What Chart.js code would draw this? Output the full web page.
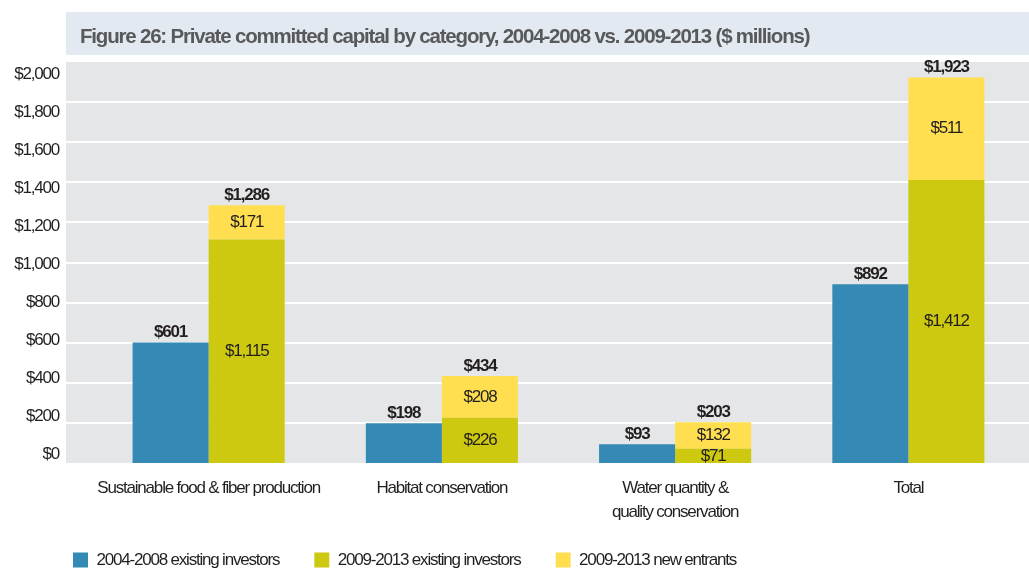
<!DOCTYPE html>
<html lang="en">
<head>
  <meta charset="UTF-8" />
  <title>Private committed capital by category</title>
  <script src="https://cdn.jsdelivr.net/npm/chart.js"></script>
  <style>
    body { margin: 0; background: #fff; }
    #wrap { width: 1029px; height: 571px; position: relative; }
  </style>
</head>
<body>
  <div id="wrap"><canvas id="capitalChart"></canvas></div>

  <script>
    // data ($ millions)
    const categories = [
      'Sustainable food & fiber production',
      'Habitat conservation',
      ['Water quantity &', 'quality conservation'],
      'Total'
    ];
    const existing0408 = [601, 198, 93, 892];
    const existing0913 = [1115, 226, 71, 1412];
    const newEntrants0913 = [171, 208, 132, 511];
    const yTicks = { min: 0, max: 2000, step: 200 };
    // the printed tick labels sit on a slightly tighter ladder than the gridlines
    const labelRange = { min: -45, max: 2067 };

    const FONT = "'Liberation Sans', Arial, sans-serif";
    const money = v => '$' + v.toLocaleString('en-US');

    // the original uses a condensed face; tighten the tracking instead
    const tightText = {
      id: 'tightText',
      beforeUpdate(chart) { chart.ctx.letterSpacing = '-1.2px'; },
      beforeDraw(chart) { chart.ctx.letterSpacing = '-1.2px'; }
    };

    // gray plot panel, title band and white gridlines
    const backdrop = {
      id: 'backdrop',
      beforeDraw(chart) {
        const { ctx, chartArea, scales } = chart;
        const x0 = 66, x1 = chart.width;
        ctx.save();
        ctx.fillStyle = '#e3e9f1';
        ctx.fillRect(x0, 12, x1 - x0, 43);
        ctx.fillStyle = '#e5e6e8';
        ctx.fillRect(x0, chartArea.top, x1 - x0, chartArea.bottom - chartArea.top);
        ctx.strokeStyle = '#ffffff';
        ctx.lineWidth = 2;
        for (let v = yTicks.min + yTicks.step; v < yTicks.max; v += yTicks.step) {
          const y = Math.round(scales.y.getPixelForValue(v));
          ctx.beginPath();
          ctx.moveTo(x0, y);
          ctx.lineTo(x1, y);
          ctx.stroke();
        }
        ctx.restore();
      }
    };

    // nudge title and legend to where the figure has them
    const placeBlocks = {
      id: 'placeBlocks',
      afterLayout(chart) {
        const t = chart.titleBlock;
        if (t) { const dx = 80 - t.left; t.left += dx; t.right += dx; }
        const lg = chart.legend;
        if (lg) {
          const pad = lg.options.labels.padding;
          const dx = 73 - pad - lg.left;
          lg.left += dx; lg.right += dx;
          lg.top = 560 - pad - 8.5;
          lg.bottom = chart.height;
          lg.height = lg.bottom - lg.top;
        }
      }
    };

    const valueLabels = {
      id: 'valueLabels',
      afterDatasetsDraw(chart) {
        const ctx = chart.ctx;
        ctx.save();
        ctx.textAlign = 'center';
        ctx.fillStyle = '#231f20';
        chart.data.datasets.forEach((ds, di) => {
          const meta = chart.getDatasetMeta(di);
          meta.data.forEach((bar, i) => {
            const v = ds.data[i];
            if (di === 0) {
              ctx.font = 'bold 17px ' + FONT;
              ctx.textBaseline = 'alphabetic';
              ctx.fillText(money(v), bar.x, bar.y - 5);
              return;
            }
            ctx.font = '17px ' + FONT;
            ctx.textBaseline = 'middle';
            ctx.fillText(money(v), bar.x, (bar.y + bar.base) / 2);
            if (di === 2) {
              ctx.font = 'bold 17px ' + FONT;
              ctx.textBaseline = 'alphabetic';
              ctx.fillText(money(existing0913[i] + newEntrants0913[i]), bar.x, bar.y - 5);
            }
          });
        });
        ctx.restore();
      }
    };

    new Chart(document.getElementById('capitalChart'), {
      type: 'bar',
      data: {
        labels: categories,
        datasets: [
          { label: '2004-2008 existing investors', data: existing0408, backgroundColor: '#3589b5', stack: 'early', borderWidth: 0 },
          { label: '2009-2013 existing investors', data: existing0913, backgroundColor: '#cdc910', stack: 'late', borderWidth: 0 },
          { label: '2009-2013 new entrants', data: newEntrants0913, backgroundColor: '#ffdf4f', stack: 'late', borderWidth: 0 }
        ]
      },
      options: {
        responsive: true,
        maintainAspectRatio: false,
        animation: false,
        layout: { padding: { top: 12, right: 4, bottom: 0, left: 0 } },
        datasets: { bar: { categoryPercentage: 0.652, barPercentage: 1.0 } },
        plugins: {
          tooltip: { enabled: false },
          title: {
            display: true,
            align: 'start',
            text: 'Figure 26: Private committed capital by category, 2004-2008 vs. 2009-2013 ($ millions)',
            color: '#58595b',
            font: { family: FONT, size: 20.5, weight: 'bold', lineHeight: 1.2 },
            padding: { top: 12.7, bottom: 12.7 }
          },
          legend: {
            position: 'bottom',
            align: 'start',
            maxHeight: 46,
            labels: {
              boxWidth: 15,
              boxHeight: 15,
              padding: 35,
              color: '#231f20',
              font: { family: FONT, size: 17 }
            }
          }
        },
        scales: {
          x: {
            stacked: true,
            grid: { display: false, drawTicks: false },
            border: { display: false },
            afterFit: s => { s.height = 62; },
            ticks: {
              color: '#231f20',
              padding: 13,
              maxRotation: 0,
              autoSkip: false,
              font: { family: FONT, size: 17, lineHeight: 1.41 }
            }
          },
          y: {
            stacked: true,
            display: false,
            min: yTicks.min,
            max: yTicks.max,
            ticks: { stepSize: yTicks.step }
          },
          yLabels: {
            position: 'left',
            min: labelRange.min,
            max: labelRange.max,
            grid: { display: false, drawTicks: false },
            border: { display: false },
            afterFit: s => { s.width = 92; },
            afterBuildTicks: s => {
              const ticks = [];
              for (let v = yTicks.min; v <= yTicks.max; v += yTicks.step) ticks.push({ value: v });
              s.ticks = ticks;
            },
            ticks: {
              padding: 33,
              color: '#231f20',
              font: { family: FONT, size: 17 },
              callback: v => money(v)
            }
          }
        }
      },
      plugins: [tightText, backdrop, placeBlocks, valueLabels]
    });
  </script>
</body>
</html>
